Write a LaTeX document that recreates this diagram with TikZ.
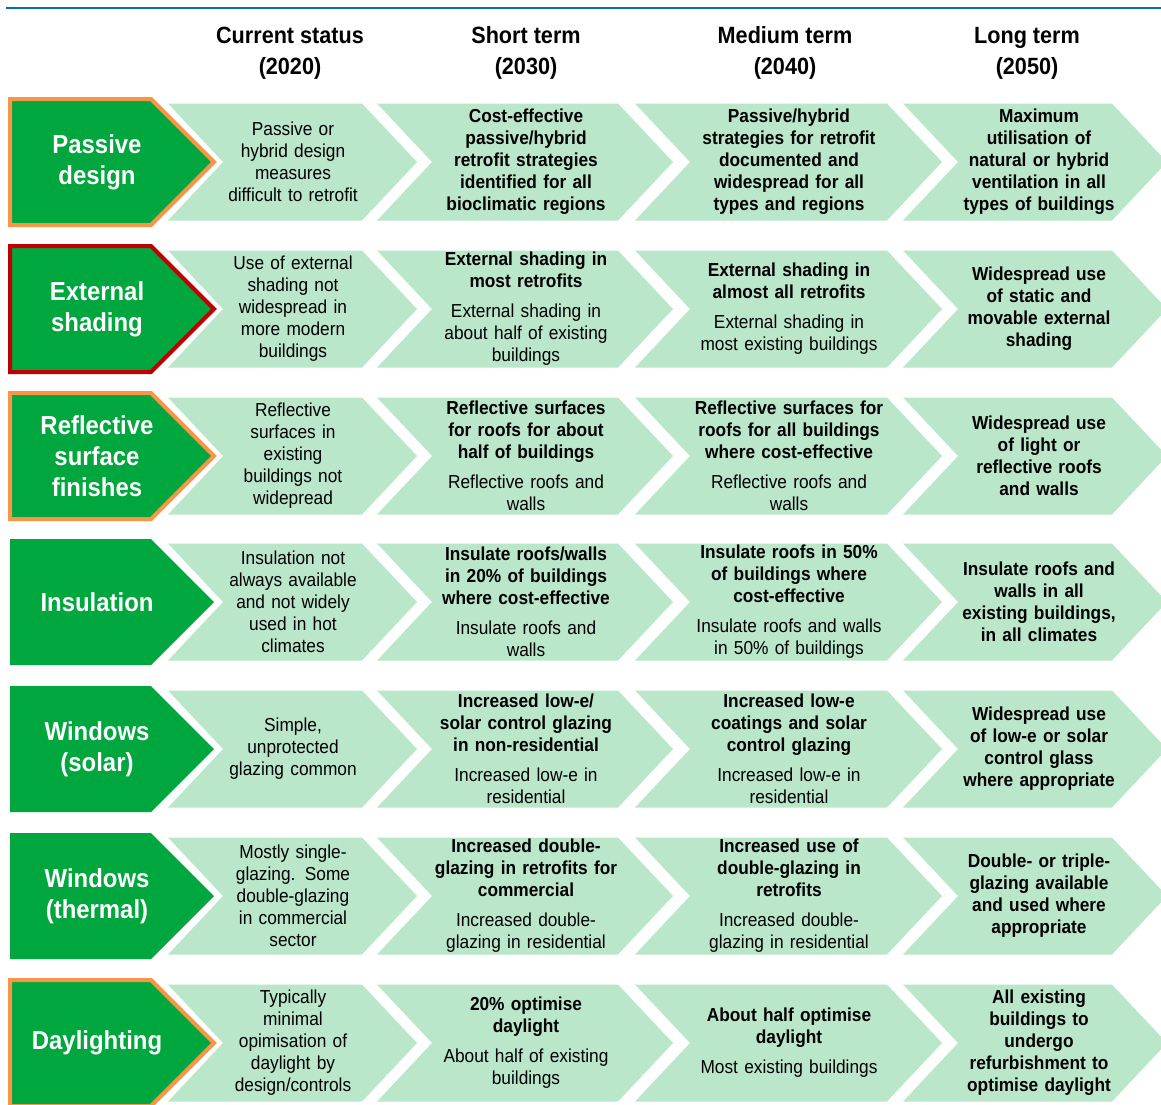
\documentclass[tikz,border=0pt]{standalone}
\usepackage{fontspec}
\setmainfont[FakeStretch=0.92]{Liberation Sans}
\definecolor{leafgreen}{HTML}{00A63E}
\definecolor{mint}{HTML}{BAE6CA}
\definecolor{flag}{HTML}{F79646}
\definecolor{alert}{HTML}{C00000}
\definecolor{rulecol}{HTML}{0070C0}
\newcommand{\twopart}[2]{\textbf{#1}\\[8pt]#2}

\begin{document}
\begin{tikzpicture}[x=1pt, y=-1pt,
    every node/.style={align=center, inner sep=0pt},
    head/.style={font=\fontsize{23.5}{31}\selectfont\bfseries},
    rowlabel/.style={text=white, font=\fontsize{26}{31}\selectfont\bfseries},
    cell/.style={text width=240pt, font=\fontsize{18.8}{22}\selectfont},
    cellbold/.style={cell, font=\fontsize{18.8}{22}\selectfont\bfseries},
    chev/.style={fill=mint},
    tag/.style={fill=leafgreen, draw=#1, line width=4pt, miter limit=10},
    tag/.default=none,
  ]
  \useasboundingbox (0,0) rectangle (1161,1104);

  % title rule
  \draw[rulecol, line width=2.5pt] (6,8) -- (1161,8);

  % chevrons
  \foreach \m in {162,309,456,602,749,896,1043} {
    \foreach \a/\b in {168/362, 377/618, 635/887, 903/1112}
      \fill[chev] (\a,\m-58.5) -- (\b,\m-58.5) -- (\b+55,\m) -- (\b,\m+58.5)
        -- (\a,\m+58.5) -- (\a+55,\m) -- cycle;
  }
  % row tags
  \foreach \m/\edge in {162/flag, 309/alert, 456/flag, 602/none,
                        749/none, 896/none, 1043/flag}
    \filldraw[tag=\edge] (10,\m-63) -- (151,\m-63) -- (214,\m) -- (151,\m+63)
      -- (10,\m+63) -- cycle;

  % column heads
  \node[head] (now)    at (290,53)  {Current status\\(2020)};
  \node[head] (short)  at (526,53)  {Short term\\(2030)};
  \node[head] (medium) at (785,53)  {Medium term\\(2040)};
  \node[head] (long)   at (1027,53) {Long term\\(2050)};

  % passive design
  \node[rowlabel] (passive) at (97,162) {Passive\\design};
  \node[cell]     (passive-now)  at (293,162) {Passive or\\hybrid design\\measures\\difficult to retrofit};
  \node[cellbold] (passive-short) at (526,162) {Cost-effective\\passive/hybrid\\retrofit strategies\\identified for all\\bioclimatic regions};
  \node[cellbold] (passive-med)  at (789,162) {Passive/hybrid\\strategies for retrofit\\documented and\\widespread for all\\types and regions};
  \node[cellbold] (passive-long) at (1039,162) {Maximum\\utilisation of\\natural or hybrid\\ventilation in all\\types of buildings};

  % external shading
  \node[rowlabel] (shading) at (97,309) {External\\shading};
  \node[cell]     (shading-now)  at (293,309) {Use of external\\shading not\\widespread in\\more modern\\buildings};
  \node[cell]     (shading-short) at (526,309) {\twopart{External shading in\\most retrofits}{External shading in\\about half of existing\\buildings}};
  \node[cell]     (shading-med)  at (789,309) {\twopart{External shading in\\almost all retrofits}{External shading in\\most existing buildings}};
  \node[cellbold] (shading-long) at (1039,309) {Widespread use\\of static and\\movable external\\shading};

  % reflective surface finishes
  \node[rowlabel] (reflect) at (97,456) {Reflective\\surface\\finishes};
  \node[cell]     (reflect-now)  at (293,456) {Reflective\\surfaces in\\existing\\buildings not\\widepread};
  \node[cell]     (reflect-short) at (526,456) {\twopart{Reflective surfaces\\for roofs for about\\half of buildings}{Reflective roofs and\\walls}};
  \node[cell]     (reflect-med)  at (789,456) {\twopart{Reflective surfaces for\\roofs for all buildings\\where cost-effective}{Reflective roofs and\\walls}};
  \node[cellbold] (reflect-long) at (1039,456) {Widespread use\\of light or\\reflective roofs\\and walls};

  % insulation
  \node[rowlabel] (insul) at (97,602) {Insulation};
  \node[cell]     (insul-now)  at (293,602) {Insulation not\\always available\\and not widely\\used in hot\\climates};
  \node[cell]     (insul-short) at (526,602) {\twopart{Insulate roofs/walls\\in 20\% of buildings\\where cost-effective}{Insulate roofs and\\walls}};
  \node[cell]     (insul-med)  at (789,602) {\twopart{Insulate roofs in 50\%\\of buildings where\\cost-effective}{Insulate roofs and walls\\in 50\% of buildings}};
  \node[cellbold] (insul-long) at (1039,602) {Insulate roofs and\\walls in all\\existing buildings,\\in all climates};

  % windows (solar)
  \node[rowlabel] (solar) at (97,749) {Windows\\(solar)};
  \node[cell]     (solar-now)  at (293,749) {Simple,\\unprotected\\glazing common};
  \node[cell]     (solar-short) at (526,749) {\twopart{Increased low-e/\\solar control glazing\\in non-residential}{Increased low-e in\\residential}};
  \node[cell]     (solar-med)  at (789,749) {\twopart{Increased low-e\\coatings and solar\\control glazing}{Increased low-e in\\residential}};
  \node[cellbold] (solar-long) at (1039,749) {Widespread use\\of low-e or solar\\control glass\\where appropriate};

  % windows (thermal)
  \node[rowlabel] (thermal) at (97,896) {Windows\\(thermal)};
  \node[cell]     (thermal-now)  at (293,896) {Mostly single-\\glazing. Some\\double-glazing\\in commercial\\sector};
  \node[cell]     (thermal-short) at (526,896) {\twopart{Increased double-\\glazing in retrofits for\\commercial}{Increased double-\\glazing in residential}};
  \node[cell]     (thermal-med)  at (789,896) {\twopart{Increased use of\\double-glazing in\\retrofits}{Increased double-\\glazing in residential}};
  \node[cellbold] (thermal-long) at (1039,896) {Double- or triple-\\glazing available\\and used where\\appropriate};

  % daylighting
  \node[rowlabel] (daylight) at (97,1043) {Daylighting};
  \node[cell]     (daylight-now)  at (293,1043) {Typically\\minimal\\opimisation of\\daylight by\\design/controls};
  \node[cell]     (daylight-short) at (526,1043) {\twopart{20\% optimise\\daylight}{About half of existing\\buildings}};
  \node[cell]     (daylight-med)  at (789,1043) {\twopart{About half optimise\\daylight}{Most existing buildings}};
  \node[cellbold] (daylight-long) at (1039,1043) {All existing\\buildings to\\undergo\\refurbishment to\\optimise daylight};
\end{tikzpicture}
\end{document}
